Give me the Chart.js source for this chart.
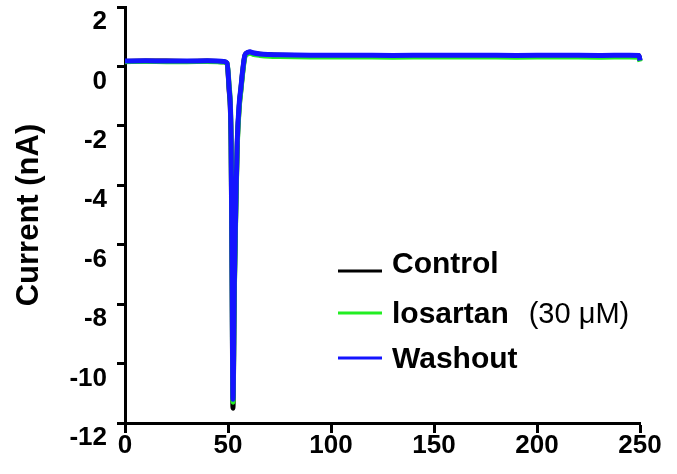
<!DOCTYPE html>
<html><head><meta charset="utf-8">
<script src="https://cdn.jsdelivr.net/npm/chart.js@4"></script>
<style>html,body{margin:0;padding:0;background:#fff}#wrap{width:677px;height:474px;position:relative}</style>
</head><body><div id="wrap"><canvas id="c" width="677" height="474"></canvas></div>
<script>
// time (ms)
const timeMs = [0,10,20,30,40,48,49.5,50.5,51.5,52.0,52.4,53.1,53.8,54.5,55.5,56.3,57.1,58.2,59.5,60.7,62,65.5,70,75,90,110,130,150,170,190,210,230,245,249.5,250];
// current (nA)
const control  = [0.17,0.18,0.18,0.17,0.18,0.16,0.10,-0.75,-2.6,-7.4,-11.5,-7.4,-4.8,-2.6,-1.3,-0.75,-0.2,0.36,0.46,0.48,0.45,0.41,0.39,0.38,0.37,0.37,0.36,0.37,0.37,0.36,0.37,0.36,0.37,0.36,0.19];
const losartan = [0.16,0.17,0.16,0.16,0.17,0.15,0.10,-0.60,-2.35,-6.9,-11.3,-7.5,-4.9,-2.7,-1.35,-0.8,-0.25,0.32,0.42,0.44,0.41,0.37,0.34,0.33,0.32,0.32,0.31,0.32,0.32,0.31,0.32,0.31,0.32,0.31,0.16];
const washout  = [0.18,0.19,0.18,0.18,0.19,0.17,0.12,-0.69,-2.48,-7.2,-11.2,-7.2,-4.6,-2.48,-1.2,-0.69,-0.15,0.38,0.47,0.49,0.46,0.42,0.40,0.39,0.38,0.38,0.37,0.38,0.38,0.37,0.38,0.37,0.38,0.37,0.20];
const seriesLabels = ['Control', 'losartan (30 μM)', 'Washout'];
const seriesColors = ['#000000', '#22ee22', '#1414ff'];
const xTicks = [0, 50, 100, 150, 200, 250];
const yTicks = [2, 0, -2, -4, -6, -8, -10, -12];
const yTitle = 'Current (nA)';

const FONT = "'Liberation Sans', Arial, sans-serif";
const pts = vals => timeMs.map((t, i) => ({x: t, y: vals[i]}));

const legendPlugin = {
  id: 'insideLegend',
  afterDraw(chart) {
    const ctx = chart.ctx;
    const rows = [{y: 271, base: 273}, {y: 313, base: 323}, {y: 358, base: 368}];
    ctx.save();
    seriesLabels.forEach((lab, i) => {
      const r = rows[i];
      ctx.strokeStyle = seriesColors[i];
      ctx.lineWidth = 3;
      ctx.beginPath(); ctx.moveTo(338, r.y); ctx.lineTo(382, r.y); ctx.stroke();
      ctx.fillStyle = '#000';
      ctx.textBaseline = 'alphabetic';
      ctx.textAlign = 'left';
      const k = lab.indexOf(' (');
      const main = k >= 0 ? lab.slice(0, k) : lab;
      const rest = k >= 0 ? lab.slice(k + 1) : '';
      ctx.font = 'bold 30px ' + FONT;
      ctx.fillText(main, 392, r.base);
      if (rest) {
        const w = ctx.measureText(main).width;
        ctx.font = '29px ' + FONT;
        ctx.fillText(rest, 392 + w + 20, r.base);
      }
    });
    ctx.restore();
  }
};

new Chart(document.getElementById('c'), {
  type: 'line',
  data: {
    datasets: [
      {label: seriesLabels[0], data: pts(control), borderColor: seriesColors[0], order: 3},
      {label: seriesLabels[1], data: pts(losartan), borderColor: seriesColors[1], order: 2},
      {label: seriesLabels[2], data: pts(washout), borderColor: seriesColors[2], order: 1}
    ].map(d => Object.assign(d, {borderWidth: 5, pointRadius: 0, tension: 0, cubicInterpolationMode: 'monotone', borderJoinStyle: 'round', clip: 8, fill: false}))
  },
  options: {
    responsive: false, animation: false, devicePixelRatio: 1,
    layout: {padding: {top: 7, right: 37, left: 0, bottom: 0}},
    plugins: {legend: {display: false}, tooltip: {enabled: false}},
    scales: {
      x: {
        type: 'linear', min: 0, max: 250,
        afterBuildTicks: s => { s.ticks = xTicks.map(v => ({value: v})); },
        afterFit: s => { s.height = 51; s.paddingLeft = 0; s.paddingRight = 0; },
        grid: {drawOnChartArea: false, drawTicks: true, tickLength: 10, tickWidth: 3, tickColor: '#000'},
        border: {display: true, color: '#000', width: 3},
        ticks: {color: '#000', font: {family: FONT, size: 26, weight: 'bold'}, padding: -3, maxRotation: 0}
      },
      y: {
        type: 'linear', min: -12, max: 2,
        afterBuildTicks: s => { s.ticks = yTicks.map(v => ({value: v})); },
        afterFit: s => { s.width = 125; s.paddingTop = 0; s.paddingBottom = 0; },
        grid: {drawOnChartArea: false, drawTicks: true, tickLength: 8, tickWidth: 3, tickColor: '#000'},
        border: {display: true, color: '#000', width: 3},
        ticks: {color: '#000', font: {family: FONT, size: 26, weight: 'bold'}, padding: 10, labelOffset: 15},
        title: {display: true, text: yTitle, color: '#000', font: {family: FONT, size: 31, weight: 'bold'}, padding: {top: 11, bottom: 0}}
      }
    }
  },
  plugins: [legendPlugin]
});
</script></body></html>
